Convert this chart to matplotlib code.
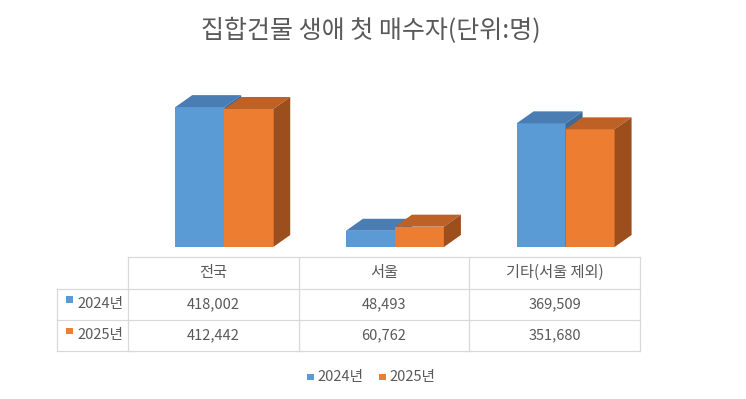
import matplotlib.pyplot as plt
from matplotlib.patches import Polygon, Rectangle
import numpy as np

plt.rcParams['font.family'] = ['Noto Sans CJK KR', 'DejaVu Sans']

# data
title = "집합건물 생애 첫 매수자(단위:명)"
categories = ["전국", "서울", "기타(서울 제외)"]
series_names = ["2024년", "2025년"]
values_2024 = [418002, 48493, 369509]
values_2025 = [412442, 60762, 351680]
series = [values_2024, values_2025]

W, H = 746, 399
fig = plt.figure(figsize=(W / 100, H / 100), dpi=100)

front = ["#5B9BD5", "#ED7D31"]
top = ["#4A7DB4", "#BD6127"]
side = ["#3F6B99", "#9C4E1C"]
text_col = "#595959"
grid_col = "#D9D9D9"

# 3d-ish bars
ax = fig.add_axes([128 / W, (H - 247) / H, 512 / W, 174 / H])
ax.set_xlim(0, 3)
ax.set_ylim(0, 520000)
ax.axis('off')

w = 0.287
dx = 0.0996
dy = 12 * 520000 / 174
x = np.arange(len(categories)) + 0.5 + 0.064

for s, vals in enumerate(series):
    x0 = x - w + s * w
    z = 1 + s * 3
    ax.bar(x0, vals, width=w, align='edge', color=front[s], linewidth=0, zorder=z)
    for xi, h in zip(x0, vals):
        ax.add_patch(Polygon([(xi, h), (xi + w, h), (xi + w + dx, h + dy), (xi + dx, h + dy)],
                             closed=True, facecolor=top[s], edgecolor='none', zorder=z + 1, clip_on=False))
        ax.add_patch(Polygon([(xi + w, 0), (xi + w + dx, dy), (xi + w + dx, h + dy), (xi + w, h)],
                             closed=True, facecolor=side[s], edgecolor='none', zorder=z + 1, clip_on=False))

# overlay in pixel coords for title, table, legend
tab = fig.add_axes([0, 0, 1, 1])
tab.set_xlim(0, W)
tab.set_ylim(H, 0)
tab.axis('off')

tab.text(371, 31, title, ha='center', va='center', fontsize=18, color=text_col)

col_edges = [128, 298.5, 469, 640]
row_edges = [257, 288.5, 320, 351]
lw = 0.9
tab.plot([128, 640], [257, 257], color=grid_col, lw=lw)
for yy in row_edges[1:]:
    tab.plot([57, 640], [yy, yy], color=grid_col, lw=lw)
tab.plot([57, 57], [288.5, 351], color=grid_col, lw=lw)
for xx in col_edges:
    tab.plot([xx, xx], [257, 351], color=grid_col, lw=lw)

fs = 10.5
for i, cat in enumerate(categories):
    cx = (col_edges[i] + col_edges[i + 1]) / 2
    tab.text(cx, 272.5, cat, ha='center', va='center', fontsize=11, color=text_col)
    for s, vals in enumerate(series):
        cy = (row_edges[s + 1] + row_edges[s + 2]) / 2
        tab.text(cx, cy, f"{vals[i]:,}", ha='center', va='center', fontsize=fs, color=text_col)

for s, name in enumerate(series_names):
    cy = (row_edges[s + 1] + row_edges[s + 2]) / 2
    tab.add_patch(Rectangle((66, cy - 8), 6.5, 6.5, facecolor=front[s], edgecolor='none'))
    tab.text(77, cy, name, ha='left', va='center', fontsize=fs, color=text_col)

# legend
for s, name in enumerate(series_names):
    lx = 307 + s * 72
    tab.add_patch(Rectangle((lx, 373.5), 6.5, 6.5, facecolor=front[s], edgecolor='none'))
    tab.text(lx + 10, 377, name, ha='left', va='center', fontsize=fs, color=text_col)

fig.savefig("out.png", dpi=100)
